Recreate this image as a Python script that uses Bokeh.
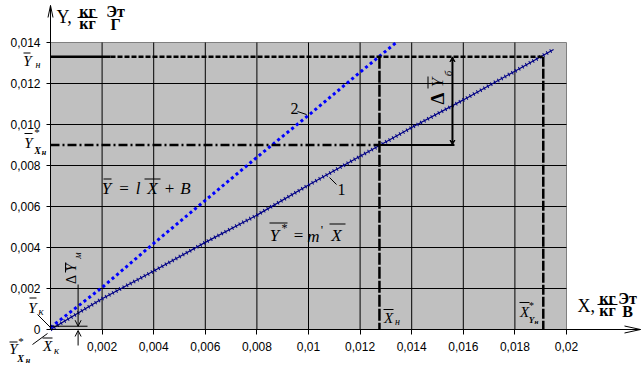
import math
from bokeh.plotting import figure
from bokeh.models import LinearAxis, FixedTicker, Range1d, Label, Arrow, OpenHead, VeeHead
from bokeh.embed import file_html
from bokeh.resources import INLINE

# ---------------- data ----------------
x_ticks = [0.002, 0.004, 0.006, 0.008, 0.010, 0.012, 0.014, 0.016, 0.018, 0.020]
x_tick_labels = ["0,002", "0,004", "0,006", "0,008", "0,01", "0,012", "0,014", "0,016", "0,018", "0,02"]
y_ticks = [0.0, 0.002, 0.004, 0.006, 0.008, 0.010, 0.012, 0.014]
y_tick_labels = ["0", "0,002", "0,004", "0,006", "0,008", "0,010", "0,012", "0,014"]

# line 1 : Y* = m' X
line1_x = [0.0, 0.002, 0.004, 0.006, 0.008, 0.010, 0.012, 0.014, 0.016, 0.018, 0.0195]
line1_y = [0.0, 0.00150, 0.00285, 0.00425, 0.00558, 0.00705, 0.00845, 0.00985, 0.01120, 0.01260, 0.01366]
# line 2 : Y = l X + B
line2_x = [0.0, 0.002, 0.004, 0.006, 0.008, 0.010, 0.012, 0.0134]
line2_y = [0.0001, 0.00205, 0.00420, 0.00630, 0.00840, 0.01045, 0.01255, 0.0140]

Y_N = 0.0133     # Y_н
Y_XN = 0.0090    # Y*_Xн
X_N = 0.01275    # X_н
X_YN = 0.0191    # X*_Yн
X_DB = 0.01558   # position of the ΔY_б arrow
Y_K = 0.00016    # Y_к
X_DM = 0.00107   # position of the ΔY_м arrow
X_MAX, Y_MAX = 0.020, 0.014

# ---------------- geometry ----------------
W, H = 643, 373
FL, FR, FT, FB = 50, 566, 42, 329   # pixel box of the grey plotting area
SX = X_MAX / (FR - FL)
SY = Y_MAX / (FB - FT)


def X(px):
    return (px - FL) * SX


def Y(py):
    return (FB - py) * SY


p = figure(width=W, height=H, x_range=Range1d(X(0), X(W)), y_range=Range1d(Y(H), Y(0)),
           x_axis_type=None, y_axis_type=None, toolbar_location=None, output_backend="svg",
           min_border=0, outline_line_color=None, background_fill_color="white",
           border_fill_color="white")
p.xgrid.visible = False
p.ygrid.visible = False

# grey area
p.quad(left=0, right=X_MAX, bottom=0, top=Y_MAX, fill_color="#C0C0C0", line_color="#808080", line_width=1)
# grid
gx = x_ticks[:-1]
p.segment(x0=gx, y0=[0] * len(gx), x1=gx, y1=[Y_MAX] * len(gx), line_color="black", line_width=1)
gy = y_ticks[1:-1]
p.segment(x0=[0] * len(gy), y0=gy, x1=[X_MAX] * len(gy), y1=gy, line_color="black", line_width=1)

# axes
ya = LinearAxis(fixed_location=0, ticker=FixedTicker(ticks=y_ticks), bounds=(0, Y(5)),
                major_label_overrides={t: s for t, s in zip(y_ticks, y_tick_labels)},
                major_tick_out=4, major_tick_in=0, minor_tick_out=0, minor_tick_in=0,
                axis_line_color="black", major_tick_line_color="black",
                major_label_text_font="Liberation Sans", major_label_text_font_size="12px",
                major_label_text_color="black", major_label_standoff=6)
p.add_layout(ya, "left")
xa = LinearAxis(fixed_location=0, ticker=FixedTicker(ticks=x_ticks), bounds=(0, X(640)),
                major_label_overrides={t: s for t, s in zip(x_ticks, x_tick_labels)},
                major_tick_out=5, major_tick_in=0, minor_tick_out=0, minor_tick_in=0,
                axis_line_color="black", major_tick_line_color="black",
                major_label_text_font="Liberation Sans", major_label_text_font_size="12px",
                major_label_text_color="black", major_label_standoff=7)
p.add_layout(xa, "below")
# axis arrow heads
p.line([X(47.5), 0, X(52.5)], [Y(17), Y(5), Y(17)], line_color="black", line_width=1)
p.line([X(624), X(640), X(624)], [Y(325.5), 0, Y(332.5)], line_color="black", line_width=1)

# curves
p.line(line1_x, line1_y, line_color="#000080", line_width=1.2)
p.line(line1_x, line1_y, line_color="#00008C", line_width=4, line_dash="1 3")
p.line(line2_x, line2_y, line_color="#0000FF", line_width=3, line_dash="3 3")

# reference lines
p.line([0, X(110)], [Y_N, Y_N], line_color="black", line_width=2.5)
p.line([X(110), X_YN], [Y_N, Y_N], line_color="black", line_width=2.5, line_dash="5 2")
p.line([0, X_N], [Y_XN, Y_XN], line_color="black", line_width=2.5, line_dash="9 3 2 3")
p.line([X_N, X_DB + 2 * SX], [Y_XN, Y_XN], line_color="black", line_width=2)
p.line([X_N, X_N], [Y_N, 0], line_color="black", line_width=2.5, line_dash="12 2")
p.line([X_YN, X_YN], [Y_N, 0], line_color="black", line_width=2.5, line_dash="10 2")
p.add_layout(Arrow(x_start=X_DB, y_start=Y_XN, x_end=X_DB, y_end=Y_N, line_width=2,
                   start=VeeHead(size=5, fill_color="black", line_width=1),
                   end=VeeHead(size=5, fill_color="black", line_width=1)))
# Y_к level and ΔY_м arrows
p.line([0, X(87)], [Y_K, Y_K], line_color="black", line_width=1)
p.add_layout(Arrow(x_start=X_DM, y_start=Y(284), x_end=X_DM, y_end=Y_K, line_width=1,
                   end=OpenHead(size=6, line_width=1)))
p.add_layout(Arrow(x_start=X_DM, y_start=Y(345), x_end=X_DM, y_end=Y(330), line_width=1,
                   end=OpenHead(size=6, line_width=1)))

# leader lines
p.segment(x0=[X(37), X(32), X(329), X(297)], y0=[Y(314), Y(344), Y(177), Y(111)],
          x1=[X(50), X(47), X(336), X(306)], y1=[Y(327), Y(333), Y(184), Y(114)],
          line_color="black", line_width=1)

SERIF = "Liberation Serif"


def txt(px, py, s, size=14, style="italic", font=SERIF, align="center", angle=0.0, base="middle"):
    p.add_layout(Label(x=X(px), y=Y(py), text=s, text_font=font, text_font_size=f"{size}px",
                       text_font_style=style, text_align=align, text_baseline=base,
                       angle=angle, text_color="black"))


bars = []


def bar(px0, px1, py):
    bars.append((X(px0), Y(py), X(px1), Y(py)))


def vbar(px, py0, py1):
    bars.append((X(px), Y(py0), X(px), Y(py1)))


# axis titles
txt(56, 16, "Y,", 18, "normal", align="left")
txt(87, 10.5, "кг", 16, "bold")
txt(87, 23, "кг", 16, "bold")
bar(77, 97, 17)
txt(115, 10.5, "Эт", 16, "bold")
txt(115, 24, "Г", 16, "bold")

txt(577, 305, "X,", 18, "normal", align="left")
txt(607, 297.5, "кг", 16, "bold")
txt(607, 310, "кг", 16, "bold")
bar(597, 617, 304)
txt(627, 297.5, "Эт", 16, "bold")
txt(627, 311, "В", 16, "bold")

# Y_н
txt(27, 60, "Y", 15)
bar(23, 30, 52.5)
txt(37.5, 64, "н", 10)
# Y*_Xн (left)
txt(28, 142, "Y", 15)
bar(24, 32, 133)
txt(36.5, 131, "*", 11, "normal")
txt(37, 150, "X", 10, "bold italic")
txt(43.5, 152, "н", 8, "bold italic")
# Y_к
txt(32, 307, "Y", 15)
bar(29, 36, 297.5)
txt(40.5, 310, "к", 11)
# X_к
txt(47, 345, "X", 15)
bar(42, 52, 337.5)
txt(56, 349, "к", 11)
# Y*_Xн (bottom)
txt(13, 348, "Y", 15)
bar(9, 17, 341.5)
txt(20.5, 340, "*", 11, "normal")
txt(20, 358, "X", 10, "bold italic")
txt(27.5, 360, "н", 8, "bold italic")
# X_н
txt(388, 317, "X", 15)
bar(383, 393, 309)
txt(397, 321, "н", 10)
# X*_Yн
txt(524, 311, "X", 15)
bar(519, 529, 302)
txt(531, 305, "*", 10, "normal")
txt(531, 319, "Y", 9, "bold italic")
txt(536, 321, "н", 7, "bold italic")

# equations
txt(106, 188, "Y", 17)
bar(103, 111, 178.5)
txt(123.5, 188, "=", 17, "normal")
txt(137.5, 188, "l", 17)
txt(152, 188, "X", 17)
bar(144, 160, 178.5)
txt(169, 188, "+", 17, "normal")
txt(185, 188, "B", 17)

txt(274, 235, "Y", 17)
txt(284, 227, "*", 12, "normal")
bar(269, 287, 222.5)
txt(298, 235, "=", 17, "normal")
txt(313, 236, "m", 17)
txt(321.5, 229, "'", 13, "normal")
txt(336, 235, "X", 17)
bar(329, 345, 223.5)

# curve labels
txt(341, 189, "1", 16, "normal")
txt(294, 108, "2", 16, "normal")

# ΔY_б (rotated)
A = math.pi / 2
txt(437, 98, "Δ", 19, "bold", angle=A)
txt(437, 82, "Y", 17, angle=A)
vbar(427.5, 76, 88)
txt(447, 73, "б", 11, angle=A)
# ΔY_м (rotated)
txt(71, 279, "Δ", 14, "normal", angle=A)
txt(71, 267, "Y", 14, angle=A)
vbar(65, 262, 272)
txt(77, 255, "м", 10, angle=A)

p.segment(x0=[b[0] for b in bars], y0=[b[1] for b in bars], x1=[b[2] for b in bars],
          y1=[b[3] for b in bars], line_color="black", line_width=1)

open("out.html", "w").write(file_html(p, INLINE))
